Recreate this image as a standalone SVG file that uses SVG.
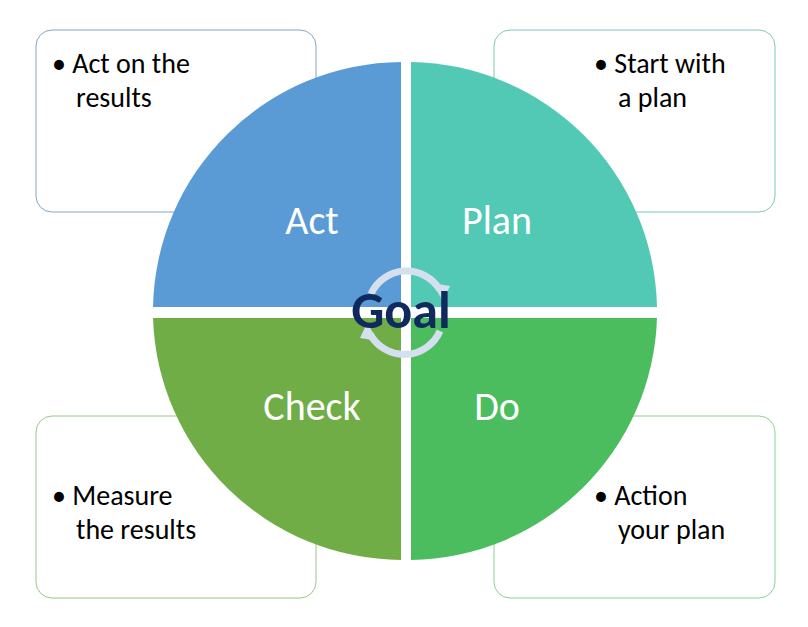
<svg xmlns="http://www.w3.org/2000/svg" width="808" height="627" viewBox="0 0 808 627">
<style>
.box{fill:#fff;stroke-width:1}
.t{font-family:Calibri,Carlito,"Liberation Sans",sans-serif;font-size:28px;fill:#000}
.q{font-family:Calibri,Carlito,"Liberation Sans",sans-serif;font-size:40px;fill:#fff;text-anchor:middle}
</style>
<rect width="808" height="627" fill="#fff"/>
<g id="box-act"><rect class="box" x="36" y="30" width="280" height="182" rx="16" stroke="#7fa6c8"/><text class="t" x="52" y="73">• Act on the</text><text class="t" x="76" y="107">results</text></g>
<g id="box-plan"><rect class="box" x="494" y="30" width="281" height="182" rx="16" stroke="#7fc8bd"/><text class="t" x="594" y="73">• Start with</text><text class="t" x="618" y="107">a plan</text></g>
<g id="box-check"><rect class="box" x="36" y="416" width="280" height="182" rx="16" stroke="#9cc58a"/><text class="t" x="52" y="505">• Measure</text><text class="t" x="76" y="539">the results</text></g>
<g id="box-do"><rect class="box" x="494" y="416" width="281" height="182" rx="16" stroke="#8bcf95"/><text class="t" x="594" y="505">• Action</text><text class="t" x="618" y="539">your plan</text></g>
<g id="act"><path d="M401,307 L153,307 A250,250 0 0 1 401,62 Z" fill="#5b9bd5"/><text class="q" x="312" y="234">Act</text></g>
<g id="plan"><path d="M411,307 L411,62 A250,250 0 0 1 657,307 Z" fill="#52c9b5"/><text class="q" x="497" y="234">Plan</text></g>
<g id="check"><path d="M401,318 L401,560 A250,250 0 0 1 153,318 Z" fill="#70ad47"/><text class="q" x="312" y="420">Check</text></g>
<g id="do"><path d="M411,318 L657,318 A250,250 0 0 1 411,560 Z" fill="#4bbd5f"/><text class="q" x="497" y="420">Do</text></g>
<g id="connectors" fill="none" stroke="#d5e0ee" stroke-width="7">
<path d="M371,294 A39,39 0 0 1 440,290"/>
<path d="M440,331 A39,39 0 0 1 370,334"/>
<polygon points="432,283 450,286 443,301" fill="#d5e0ee" stroke="none"/>
<polygon points="378,341 360,338 367,323" fill="#d5e0ee" stroke="none"/>
</g>
<g id="goal"><text x="401" y="328" font-family="Calibri,Carlito,'Liberation Sans',sans-serif" font-weight="bold" font-size="52" fill="#112a5e" text-anchor="middle">Goal</text></g>
</svg>
